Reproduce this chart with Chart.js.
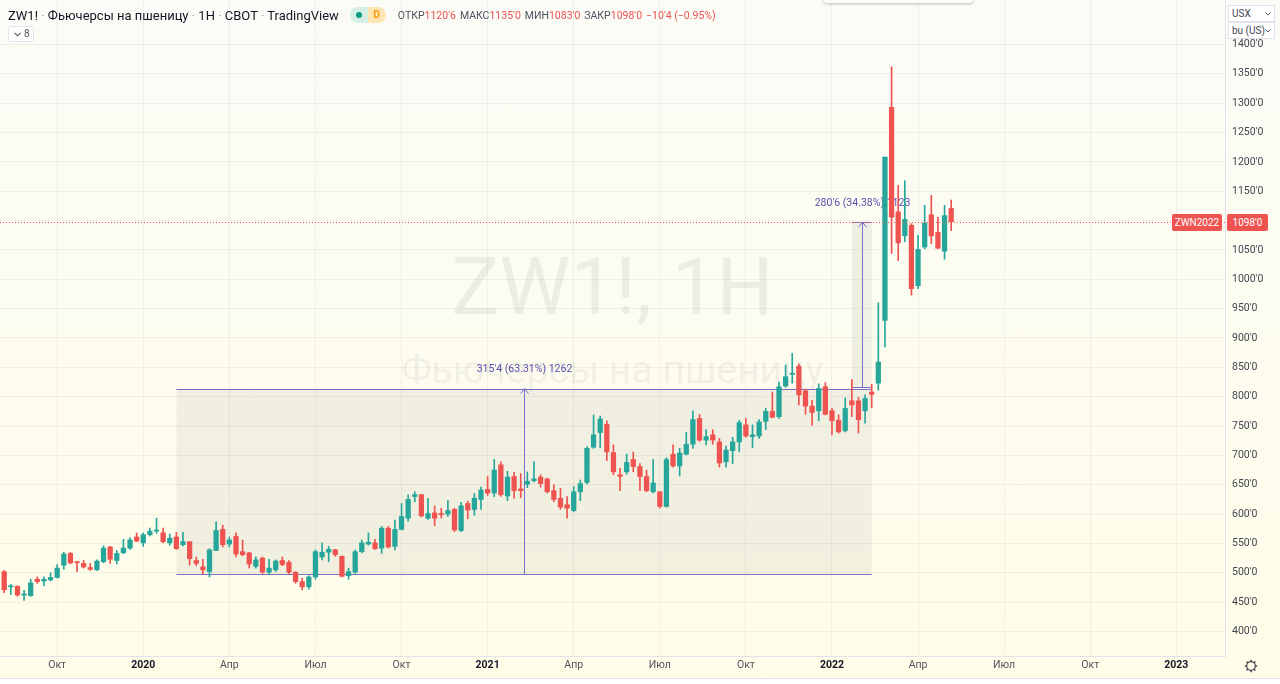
<!DOCTYPE html>
<html lang="ru">
<head>
<meta charset="utf-8">
<title>ZW1! · Фьючерсы на пшеницу · 1H</title>
<script src="https://cdn.jsdelivr.net/npm/chart.js@4.4.1/dist/chart.umd.min.js"></script>
<style>
  html, body { margin: 0; padding: 0; background: #fff; }
  #wrap { position: relative; width: 1280px; height: 684px; overflow: hidden;
          background: linear-gradient(#fbfbf7, #fffde8); font-family: Roboto, "Noto Sans", sans-serif; color: #131722; }
  #chart { position: absolute; left: 0; top: 0; }
  .wm { position: absolute; left: 0; width: 1225px; text-align: center; color: rgba(70, 70, 80, 0.08); white-space: nowrap; }
  .wm.big { top: 247px; font-size: 80px; line-height: 80px; }
  .wm.small { top: 351px; font-size: 39px; line-height: 39px; }
  #legend { position: absolute; left: 8px; top: 6px; height: 18px; display: flex; align-items: center; white-space: nowrap; }
  #legend .title { font-size: 13px; }
  #legend .title i { font-style: normal; color: #9598a1; }
  .pill { display: inline-flex; margin-left: 11px; height: 16px; border-radius: 8px; overflow: hidden; }
  .pill .p1 { width: 18px; background: #d3efe6; position: relative; }
  .pill .p1::after { content: ""; position: absolute; left: 6px; top: 5px; width: 6px; height: 6px; border-radius: 3px; background: #089981; }
  .pill .p2 { width: 18px; background: #fde5b6; color: #f5a000; font-size: 10px; font-weight: bold; text-align: center; line-height: 16px; }
  .ohlc { margin-left: 12px; font-size: 10.5px; color: #50535e; }
  .ohlc b { font-weight: normal; color: #ef5350; margin-right: 4px; }
  #collapse { position: absolute; left: 8px; top: 26px; width: 26px; height: 16px; box-sizing: border-box;
              border: 1px solid #e0e3eb; border-radius: 3px; background: #fff; font-size: 10px; line-height: 14px; color: #50535e; }
  #collapse svg { position: absolute; left: 5px; top: 5px; }
  #collapse span { position: absolute; left: 15px; top: 0; }
  .unit { position: absolute; left: 1228px; width: 47px; height: 17px; box-sizing: border-box; background: #fff;
          border: 1px solid #e0e3eb; font-size: 10px; line-height: 15px; padding-left: 3px; color: #434651; }
  .unit svg { position: absolute; right: 3px; top: 6px; }
  .tag { position: absolute; height: 17px; background: #ef5350; color: #fff; font-size: 10px; line-height: 17px;
         text-align: center; border-radius: 2px; }
  #popup { position: absolute; left: 823px; top: -5px; width: 150px; height: 8px; background: #fff;
           border-radius: 4px; box-shadow: 0 1px 3px rgba(0,0,0,0.25); }
  #bottomStrip { position: absolute; left: 0; top: 678px; width: 1280px; height: 6px; background: #fff; border-top: 1px solid #e0e3eb; }
  #gear { position: absolute; left: 1244px; top: 659px; }
</style>
</head>
<body>
<div id="wrap">
  <div class="wm big">ZW1!, 1H</div>
  <div class="wm small">Фьючерсы на пшеницу</div>
  <canvas id="chart" width="1280" height="684"></canvas>
  <div id="popup"></div>
  <div id="legend">
    <span class="title">ZW1! <i>·</i> Фьючерсы на пшеницу <i>·</i> 1H <i>·</i> CBOT <i>·</i> TradingView</span>
    <span class="pill"><span class="p1"></span><span class="p2">D</span></span>
    <span class="ohlc" id="ohlc"></span>
  </div>
  <div id="collapse"><svg width="7" height="5" viewBox="0 0 7 5"><path d="M0.5 0.8 L3.5 3.8 L6.5 0.8" fill="none" stroke="#50535e" stroke-width="1.1"/></svg><span>8</span></div>
  <div class="unit" style="top:5px">USX<svg width="6" height="4" viewBox="0 0 6 4"><path d="M0.5 0.5 L3 3 L5.5 0.5" fill="none" stroke="#50535e"/></svg></div>
  <div class="unit" style="top:22px">bu (US)<svg width="6" height="4" viewBox="0 0 6 4"><path d="M0.5 0.5 L3 3 L5.5 0.5" fill="none" stroke="#50535e"/></svg></div>
  <div class="tag" id="tagSymbol" style="left:1172px; width:50px;">ZWN2022</div>
  <div class="tag" id="tagPrice" style="left:1227px; width:41px;"></div>
  <div id="bottomStrip"></div>
  <svg id="gear" width="14" height="14" viewBox="0 0 14 14">
    <circle cx="7" cy="7" r="4.3" fill="none" stroke="#434651" stroke-width="1.2"/>
    <path d="M7 0.8V2.7M7 11.3V13.2M0.8 7H2.7M11.3 7H13.2M2.6 2.6L3.9 3.9M10.1 10.1L11.4 11.4M2.6 11.4L3.9 10.1M10.1 3.9L11.4 2.6" stroke="#434651" stroke-width="1.4"/>
  </svg>
</div>
<script>
// weekly bars, first bar = week of 12 Aug 2019, last = week of 9 May 2022
var openPrices = [502,476,477,462,461,489,486,488,492,513, 533,519,516,509,505,519,544,521,534,542,
  561,551,565,571,568,551,561,548,553,521, 510,502,538,574,549,562,536,534,511,525,
  501,505,521,518,501,485,476,493,527,535, 539,528,495,501,536,549,551,542,576,545,
  574,593,630,633,593,602,601,600,608,572, 618,608,625,642,636,684,631,664,643,651,
  657,663,660,640,627,616,606,638,654,714, 739,753,705,667,672,693,681,664,638,638,
  613,702,682,702,719,763,726,735,723,689, 708,723,752,732,733,758,775,766,818,838,
  852,810,784,776,817,776,760,742,793,793, 776,808,823,930,1293,1115,1074,1092,989,1055,
  1110,1080,1048,1120.75];
var highPrices = [504,480,478,470,489,493,493,500,514,535, 535,519,521,516,522,546,545,538,557,560,
  568,568,576,593,576,566,569,569,553,527, 523,541,587,581,561,568,556,535,527,527,
  523,522,527,521,502,491,495,539,551,545, 540,529,508,539,556,568,557,579,579,590,
  618,633,638,634,627,614,610,623,610,620, 622,635,646,664,693,689,673,671,669,672,
  689,667,661,650,644,630,647,658,715,769, 767,759,718,678,702,706,686,675,693,638,
  696,718,712,739,776,770,744,744,729,716, 731,760,763,752,761,780,808,825,854,874,
  856,813,794,822,824,780,769,798,829,799, 803,821,960,1208,1362,1160,1168,1095,1075,1126,
  1143,1106,1126,1135];
var lowPrices = [466,463,460,453,460,482,478,486,491,506, 515,502,508,504,504,517,516,515,533,540,
  553,545,563,567,551,547,540,546,513,512, 498,493,538,544,544,527,529,508,508,499,
  497,502,512,498,482,471,472,489,522,519, 528,493,489,499,534,547,540,533,542,539,
  573,588,621,595,591,580,593,596,570,570, 592,598,608,632,630,630,623,627,628,645,
  655,646,636,621,608,593,604,623,651,712, 713,691,667,640,668,672,640,638,636,610,
  612,680,665,701,712,724,718,719,680,680, 686,706,731,713,729,744,764,763,816,823,
  786,770,751,759,769,735,738,740,766,738, 755,781,811,885,1044,1032,1064,973,984,1052,
  1061,1052,1034,1083];
var closePrices = [471,478,462,464,483,485,489,492,508,532, 517,517,510,506,520,542,523,533,542,556,
  554,565,571,573,553,559,541,553,524,516, 505,539,572,548,556,532,531,515,522,501,
  508,520,514,501,485,476,493,536,535,540, 531,494,502,536,551,552,541,576,544,574,
  596,625,633,597,601,593,599,606,573,614, 607,627,641,636,675,633,663,640,640,656,
  660,652,638,625,612,610,638,652,712,735, 762,706,672,664,688,681,664,640,653,613,
  693,682,704,719,761,726,732,726,687,709, 723,756,733,735,757,775,765,817,834,840,
  803,784,773,814,770,759,740,780,786,761, 797,804,859,1208,1106,1062,1102,984,1051,1096,
  1074,1053,1108.5,1098];

// time axis: bar index of the first weekly bar of each labelled month
var tickBars   = [8, 21, 34, 47, 60, 73, 86, 99, 112, 125, 138, 151, 164, 177];
var tickLabels = ['Окт', '2020', 'Апр', 'Июл', 'Окт', '2021', 'Апр', 'Июл', 'Окт', '2022', 'Апр', 'Июл', 'Окт', '2023'];
var priceTicks = [400, 450, 500, 550, 600, 650, 700, 750, 800, 850, 900, 950, 1000, 1050, 1100, 1150, 1200, 1250, 1300, 1350, 1400];

// the two "price range" drawings
var priceRanges = [
  { fromBar: 26, toBar: 131, arrowBar: 78.5, low: 498.25, high: 813.75, text: "315'4 (63.31%) 1262" },
  { fromBar: 128, toBar: 131, arrowBar: 129.5, low: 816.5, high: 1097.25, text: "280'6 (34.38%) 1123" }
];

var upColor = '#26a69a';
var downColor = '#ef5350';
var gridColor = 'rgba(42, 46, 57, 0.06)';
var drawColor = '#7a6fc6';

function fmtPrice(v) {
  var sign = v < 0 ? '−' : '';
  var a = Math.abs(v);
  var whole = Math.floor(a + 1e-9);
  return sign + whole + "'" + Math.round((a - whole) * 8);
}

var bars = openPrices.map(function (o, i) { return i; });
var candleColors = bars.map(function (i) { return closePrices[i] >= openPrices[i] ? upColor : downColor; });

// header values
var last = bars.length - 1;
var change = closePrices[last] - closePrices[last - 1];
var changePct = change / closePrices[last - 1] * 100;
document.getElementById('ohlc').innerHTML =
  'ОТКР<b>' + fmtPrice(openPrices[last]) + '</b>МАКС<b>' + fmtPrice(highPrices[last]) +
  '</b>МИН<b>' + fmtPrice(lowPrices[last]) + '</b>ЗАКР<b>' + fmtPrice(closePrices[last]) +
  '</b><b>' + fmtPrice(change) + ' (' + (changePct < 0 ? '−' : '+') + Math.abs(changePct).toFixed(2) + '%)</b>';
document.getElementById('tagPrice').textContent = fmtPrice(closePrices[last]);

var rangesPlugin = {
  id: 'priceRanges',
  beforeDatasetsDraw: function (chart) {
    var ctx = chart.ctx, x = chart.scales.x, y = chart.scales.y;
    ctx.save();
    priceRanges.forEach(function (r) {
      var x0 = x.getPixelForValue(r.fromBar), x1 = x.getPixelForValue(r.toBar);
      var yLo = y.getPixelForValue(r.low), yHi = y.getPixelForValue(r.high);
      var ax = Math.round(x.getPixelForValue(r.arrowBar)) + 0.5;
      ctx.fillStyle = 'rgba(110, 110, 115, 0.09)';
      ctx.fillRect(x0, yHi, x1 - x0, yLo - yHi);
      ctx.strokeStyle = drawColor;
      ctx.lineWidth = 1;
      ctx.beginPath();
      ctx.moveTo(x0, Math.round(yHi) + 0.5); ctx.lineTo(x1, Math.round(yHi) + 0.5);
      ctx.moveTo(x0, Math.round(yLo) + 0.5); ctx.lineTo(x1, Math.round(yLo) + 0.5);
      ctx.moveTo(ax, yLo); ctx.lineTo(ax, yHi);
      ctx.moveTo(ax - 4, yHi + 5); ctx.lineTo(ax, yHi); ctx.lineTo(ax + 4, yHi + 5);
      ctx.stroke();
      ctx.fillStyle = '#5b50b0';
      ctx.font = '10.5px Roboto';
      ctx.textAlign = 'center';
      ctx.textBaseline = 'middle';
      ctx.fillText(r.text, ax, yHi - 19);
    });
    ctx.restore();
  },
  afterDatasetsDraw: function (chart) {
    var ctx = chart.ctx, area = chart.chartArea;
    var py = Math.round(chart.scales.y.getPixelForValue(closePrices[last])) + 0.5;
    ctx.save();
    ctx.strokeStyle = downColor;
    ctx.lineWidth = 1;
    ctx.setLineDash([1, 2]);
    ctx.beginPath();
    ctx.moveTo(area.left, py);
    ctx.lineTo(area.right, py);
    ctx.stroke();
    ctx.restore();
    document.getElementById('tagSymbol').style.top = (py - 9) + 'px';
    document.getElementById('tagPrice').style.top = (py - 9) + 'px';
  }
};

Chart.defaults.font.family = 'Roboto';

new Chart(document.getElementById('chart'), {
  type: 'bar',
  data: {
    datasets: [
      {
        label: 'wick',
        data: bars.map(function (i) { return { x: i, y: [lowPrices[i], highPrices[i]] }; }),
        backgroundColor: candleColors,
        barThickness: 1,
        grouped: false,
        order: 2
      },
      {
        label: 'body',
        data: bars.map(function (i) { return { x: i, y: [openPrices[i], closePrices[i]] }; }),
        backgroundColor: candleColors,
        barThickness: 4.6,
        minBarLength: 1,
        grouped: false,
        order: 1
      }
    ]
  },
  options: {
    responsive: false,
    animation: false,
    layout: { padding: { bottom: 6 } },
    plugins: { legend: { display: false }, tooltip: { enabled: false } },
    scales: {
      x: {
        type: 'linear',
        min: -0.634,
        max: 184.35,
        offset: false,
        grid: { offset: false, color: gridColor, drawTicks: false },
        border: { color: '#e0e3eb' },
        afterBuildTicks: function (s) { s.ticks = tickBars.map(function (v) { return { value: v }; }); },
        afterFit: function (s) { s.height = 22; s.paddingLeft = 0; s.paddingRight = 0; },
        ticks: {
          autoSkip: false,
          maxRotation: 0,
          padding: 3,
          callback: function (v, i) { return tickLabels[i]; },
          color: function (c) { return /^\d/.test(tickLabels[c.index]) ? '#131722' : '#50535e'; },
          font: function (c) { return { size: 10.5, weight: /^\d/.test(tickLabels[c.index]) ? 'bold' : 'normal' }; }
        }
      },
      y: {
        position: 'right',
        min: 358.26,
        max: 1475.81,
        grid: { color: gridColor, drawTicks: false },
        border: { color: '#e0e3eb' },
        afterBuildTicks: function (s) { s.ticks = priceTicks.map(function (v) { return { value: v }; }); },
        afterFit: function (s) { s.width = 55; s.paddingTop = 0; s.paddingBottom = 0; },
        ticks: {
          padding: 7,
          color: '#434651',
          font: { size: 10.5 },
          callback: function (v) { return fmtPrice(v); }
        }
      }
    }
  },
  plugins: [rangesPlugin]
});
</script>
</body>
</html>
